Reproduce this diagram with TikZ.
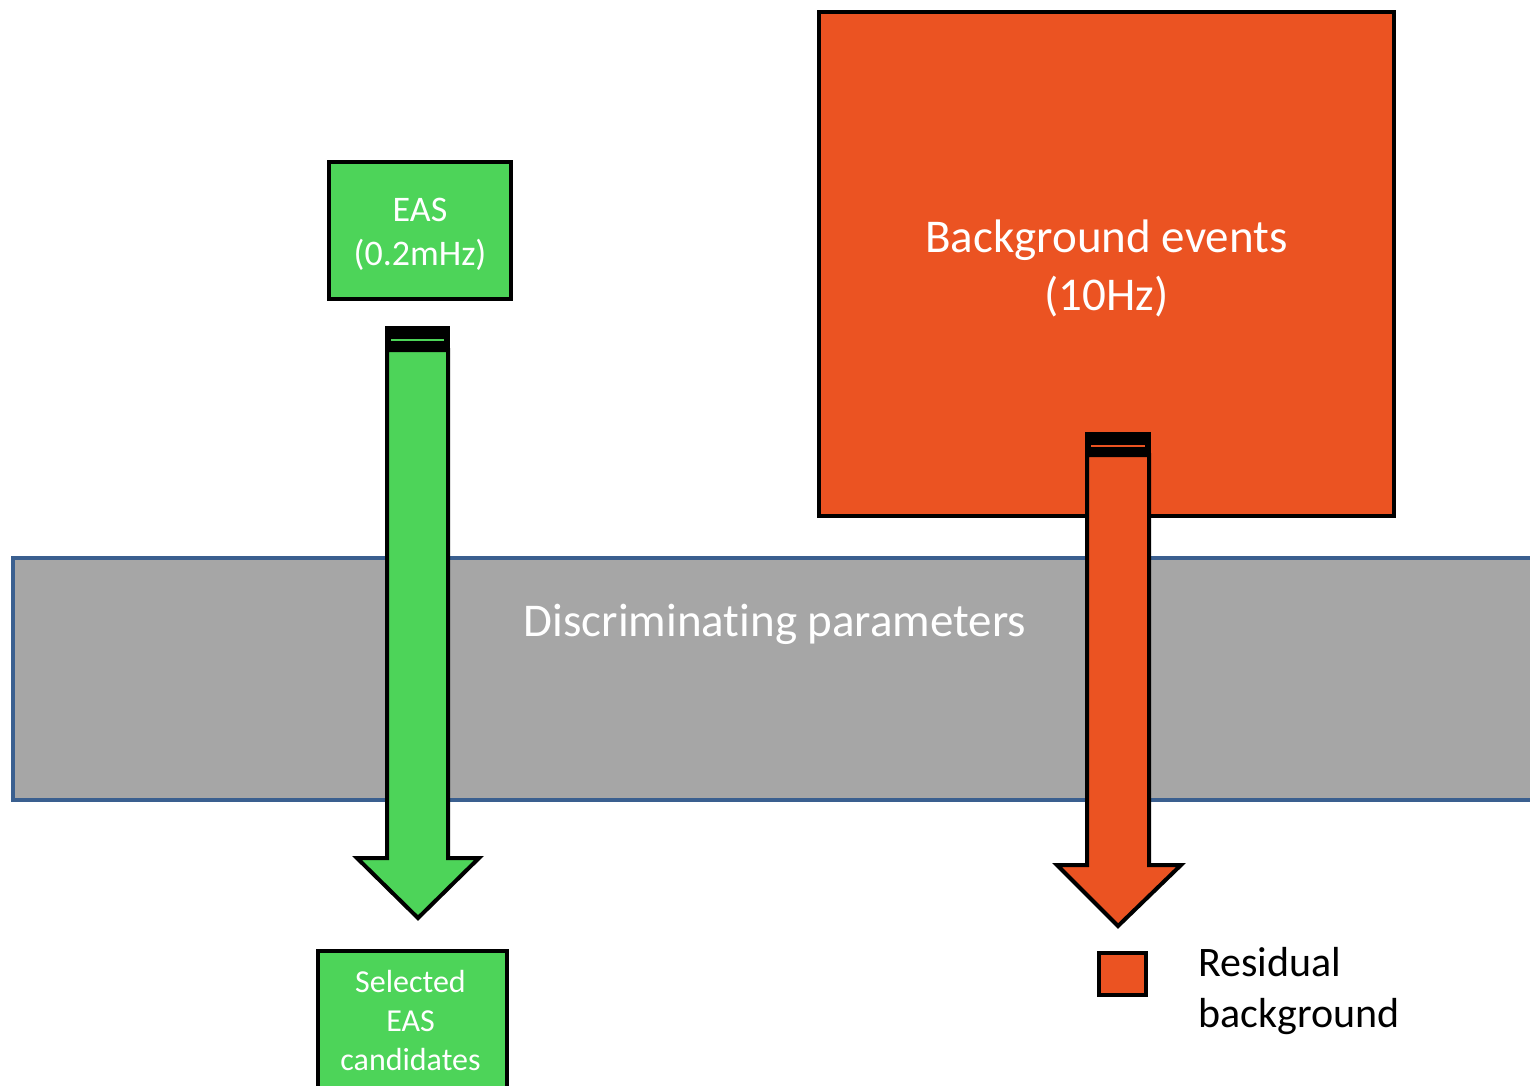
\documentclass[tikz,border=0pt]{standalone}
\usepackage{fontspec}
\setmainfont[Ligatures=NoCommon]{Carlito}
\definecolor{easgreen}{HTML}{4DD459}
\definecolor{bgorange}{HTML}{EB5322}
\definecolor{bandgray}{HTML}{A6A6A6}
\definecolor{bandblue}{HTML}{3A5F8F}
\begin{document}
\begin{tikzpicture}[x=1pt,y=-1pt,
  box/.style={draw=black,line width=4pt,inner sep=0pt,text=white,align=center},
  blockarrow/.style={draw=black,line width=4pt,line join=miter},
  lbl/.style={text=white,align=center,inner sep=0pt}]
\clip (0,0) rectangle (1530,1085);
\useasboundingbox (0,0) rectangle (1530,1085);
% band
\node[draw=bandblue,fill=bandgray,line width=4pt,minimum width=1560pt,minimum height=242pt,anchor=north west,inner sep=0pt] (band) at (11,556) {};
\node[lbl,font=\fontsize{47}{57}\selectfont] (disc) at (775,624) {Discriminating parameters};
% background box
\node[box,fill=bgorange,minimum width=575pt,minimum height=504pt] (bg) at (1106.5,264) {};
\node[lbl,font=\fontsize{47}{58}\selectfont] (bgtext) at (1106.5,268) {Background events\\(10Hz)};
% EAS box
\node[box,fill=easgreen,minimum width=182pt,minimum height=137pt] (eas) at (420,230.5) {};
\node[lbl,font=\fontsize{36}{44}\selectfont] (eastext) at (420,234.5) {EAS\\(0.2mHz)};
% green arrow
\fill[black] (385,326) rectangle (450,351);
\draw[easgreen,line width=2.5pt] (391,340) -- (444,340);
\draw[blockarrow,fill=easgreen] (387,350) -- (387,858) -- (357,858) -- (418,918) -- (479,858) -- (448,858) -- (448,350) -- cycle;
% orange arrow
\fill[black] (1085,432) rectangle (1151,456);
\draw[bgorange,line width=2.5pt] (1091,446) -- (1145,446);
\draw[blockarrow,fill=bgorange] (1087,455) -- (1087,865) -- (1057,865) -- (1118,926) -- (1181,865) -- (1149,865) -- (1149,455) -- cycle;
% selected box
\node[box,fill=easgreen,minimum width=189pt,minimum height=160pt,anchor=north west] (sel) at (316,949) {};
\node[lbl,font=\fontsize{32}{39}\selectfont] (seltext) at (410.5,1020) {Selected\\EAS\\candidates};
% residual
\node[draw=black,fill=bgorange,line width=4pt,minimum width=47pt,minimum height=42pt,inner sep=0pt] (res) at (1122.5,974) {};
\node[anchor=west,align=left,inner sep=0pt,font=\fontsize{42}{51}\selectfont] (restext) at (1198,991) {Residual\\background};
\end{tikzpicture}
\end{document}
